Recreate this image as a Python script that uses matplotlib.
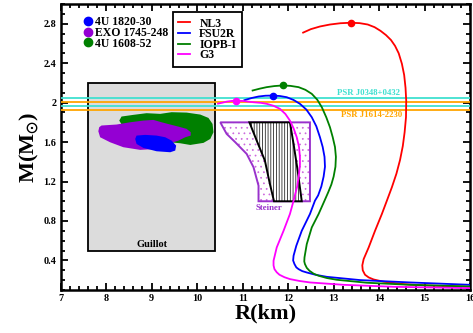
import matplotlib
matplotlib.use("Agg")
import matplotlib.pyplot as plt
from matplotlib.patches import Polygon, Rectangle
from matplotlib.lines import Line2D

plt.rcParams['font.family'] = ['Liberation Serif', 'DejaVu Serif']
plt.rcParams['font.weight'] = 'bold'
plt.rcParams['axes.labelweight'] = 'bold'
plt.rcParams['mathtext.fontset'] = 'stix'
plt.rcParams['hatch.linewidth'] = 0.5

# ---- M-R curves (R in km, M in Msun) ----
nl3_R = [12.33, 12.50, 12.70, 12.92, 13.15, 13.38, 13.57, 13.75, 13.90, 14.03, 14.15, 14.26,
         14.35, 14.43, 14.50, 14.55, 14.58, 14.595, 14.59, 14.56, 14.52, 14.46, 14.38, 14.28,
         14.17, 14.06, 13.91, 13.77, 13.66, 13.63, 13.64, 13.69, 13.77, 13.88, 14.10, 14.54,
         15.05, 16.0]
nl3_M = [2.71, 2.745, 2.772, 2.792, 2.805, 2.81, 2.806, 2.792, 2.765, 2.728, 2.685, 2.635,
         2.575, 2.50, 2.394, 2.28, 2.15, 2.02, 1.852, 1.70, 1.56, 1.42, 1.28, 1.142,
         1.006, 0.871, 0.701, 0.532, 0.414, 0.35, 0.30, 0.255, 0.228, 0.207, 0.184, 0.160,
         0.146, 0.133]

fsu_R = [11.04, 11.20, 11.35, 11.50, 11.66, 11.82, 11.97, 12.12, 12.26, 12.40, 12.52, 12.62,
         12.70, 12.76, 12.80, 12.81, 12.78, 12.73, 12.66, 12.59, 12.48, 12.30, 12.18, 12.12,
         12.11, 12.14, 12.18, 12.23, 12.31, 12.41, 12.60, 12.85, 13.58, 14.68, 16.0]
fsu_M = [2.025, 2.047, 2.062, 2.070, 2.072, 2.067, 2.055, 2.027, 1.988, 1.93, 1.852, 1.76,
         1.649, 1.55, 1.45, 1.35, 1.25, 1.15, 1.06, 1.006, 0.871, 0.701, 0.549, 0.448,
         0.40, 0.363, 0.33, 0.312, 0.292, 0.278, 0.255, 0.234, 0.201, 0.177, 0.153]

iopb_R = [11.22, 11.38, 11.53, 11.70, 11.88, 12.05, 12.23, 12.38, 12.52, 12.64, 12.74, 12.84,
          12.92, 12.98, 13.03, 13.05, 13.04, 13.00, 12.95, 12.88, 12.80, 12.67, 12.52, 12.41,
          12.36, 12.355, 12.37, 12.41, 12.47, 12.56, 12.67, 12.85, 13.07, 13.73, 14.68, 16.0]
iopb_M = [2.123, 2.142, 2.157, 2.168, 2.174, 2.17, 2.157, 2.13, 2.089, 2.03, 1.954, 1.85,
          1.75, 1.65, 1.55, 1.45, 1.35, 1.25, 1.17, 1.09, 1.006, 0.871, 0.735, 0.566,
          0.431, 0.39, 0.363, 0.325, 0.295, 0.266, 0.245, 0.222, 0.204, 0.174, 0.153, 0.136]

g3_R = [10.46, 10.56, 10.65, 10.76, 10.86, 11.00, 11.24, 11.40, 11.53, 11.68, 11.82, 11.94,
        12.04, 12.12, 12.19, 12.24, 12.26, 12.26, 12.24, 12.20, 12.16, 12.12, 12.04, 11.90,
        11.75, 11.68, 11.68, 11.70, 11.75, 11.81, 11.92, 12.04, 12.25, 12.48, 13.22, 14.32,
        16.0]
g3_M = [1.99, 2.00, 2.01, 2.017, 2.02, 2.017, 2.004, 1.998, 1.988, 1.968, 1.937, 1.885,
        1.818, 1.74, 1.649, 1.55, 1.446, 1.37, 1.28, 1.15, 1.08, 1.006, 0.871, 0.701,
        0.532, 0.397, 0.35, 0.312, 0.28, 0.255, 0.23, 0.211, 0.192, 0.177, 0.153, 0.133,
        0.119]

eos_names = ['NL3', 'FSU2R', 'IOPB-I', 'G3']
eos_colors = ['red', 'blue', 'green', 'magenta']
eos_R = [nl3_R, fsu_R, iopb_R, g3_R]
eos_M = [nl3_M, fsu_M, iopb_M, g3_M]
max_R = [13.38, 11.66, 11.88, 10.86]
max_M = [2.81, 2.072, 2.174, 2.02]

# ---- observational constraints ----
psr_names = ['PSR J0348+0432', 'PSR J1614-2230']
psr_colors = ['turquoise', 'orange']
psr_lo = [1.97, 1.93]
psr_hi = [2.05, 2.01]

guillot_R = [7.6, 10.4]
guillot_M = [0.5, 2.2]

blob_names = ['4U 1820-30', 'EXO 1745-248', '4U 1608-52']
blob_colors = ['blue', 'darkviolet', 'green']
blob_4u1820 = [(8.64, 1.632), (8.67, 1.666), (8.86, 1.673), (9.11, 1.666), (9.30, 1.649),
               (9.44, 1.615), (9.54, 1.564), (9.52, 1.514), (9.41, 1.497), (9.11, 1.507),
               (8.82, 1.541), (8.67, 1.581)]
blob_exo = [(7.85, 1.751), (7.90, 1.768), (8.23, 1.778), (8.53, 1.801), (8.82, 1.818),
            (9.04, 1.825), (9.22, 1.801), (9.41, 1.778), (9.59, 1.757), (9.77, 1.734),
            (9.86, 1.700), (9.86, 1.666), (9.74, 1.649), (9.59, 1.615), (9.41, 1.588),
            (9.11, 1.531), (8.75, 1.521), (8.38, 1.548), (8.09, 1.598), (7.87, 1.649),
            (7.83, 1.710)]
blob_4u1608 = [(8.29, 1.818), (8.34, 1.859), (8.60, 1.876), (8.89, 1.893), (9.19, 1.886),
               (9.44, 1.903), (9.77, 1.899), (10.07, 1.879), (10.25, 1.845), (10.34, 1.784),
               (10.36, 1.700), (10.29, 1.632), (10.14, 1.592), (9.85, 1.571), (9.63, 1.588),
               (9.41, 1.598), (8.75, 1.649), (8.38, 1.75)]
blobs = [blob_4u1820, blob_exo, blob_4u1608]

steiner_outer = [(10.51, 1.80), (12.48, 1.80), (12.48, 1.0), (11.35, 1.0), (11.35, 1.158),
                 (11.24, 1.345), (11.09, 1.480), (10.84, 1.598), (10.65, 1.683)]
steiner_inner = [(11.15, 1.80), (12.04, 1.80), (12.12, 1.581), (12.21, 1.311), (12.30, 1.0),
                 (11.69, 1.0), (11.60, 1.175), (11.49, 1.412), (11.31, 1.615)]

fig = plt.figure(figsize=(4.73, 3.33), dpi=100)
ax = fig.add_axes([0.128, 0.129, 0.866, 0.859])

ax.add_patch(Rectangle((guillot_R[0], guillot_M[0]), guillot_R[1] - guillot_R[0],
                       guillot_M[1] - guillot_M[0], facecolor='#dcdcdc',
                       edgecolor='black', lw=1.3, zorder=1))
ax.text(sum(guillot_R) / 2, guillot_M[0] + 0.065, 'Guillot', fontsize=7.5,
        ha='center', va='center', zorder=2)

# draw 4U 1608 first, then EXO, then 4U 1820 on top
for i in [2, 1, 0]:
    ax.add_patch(Polygon(blobs[i], closed=True, facecolor=blob_colors[i],
                         edgecolor='none', zorder=2))

ax.add_patch(Polygon(steiner_outer, closed=True, facecolor='white',
                     edgecolor='#cc66dd', hatch='...', lw=0, zorder=2))
ax.add_patch(Polygon(steiner_outer, closed=True, facecolor='none',
                     edgecolor='#9932cc', lw=1.4, zorder=3))
ax.add_patch(Polygon(steiner_inner, closed=True, facecolor='white',
                     edgecolor='black', hatch='||||||', lw=1.4, zorder=3))
ax.text(11.57, 0.93, 'Steiner', fontsize=6.3, color='#9932cc',
        ha='center', va='center', zorder=3)

for lo, hi, c in zip(psr_lo, psr_hi, psr_colors):
    ax.axhline(lo, color=c, lw=1.3, zorder=3)
    ax.axhline(hi, color=c, lw=1.3, zorder=3)
ax.text(13.76, 2.10, psr_names[0], color='turquoise', fontsize=6.3,
        ha='center', va='center')
ax.text(13.84, 1.87, psr_names[1], color='orange', fontsize=6.3,
        ha='center', va='center')

line_handles = []
for R, M, c, n, xr, ym in zip(eos_R, eos_M, eos_colors, eos_names, max_R, max_M):
    h, = ax.plot(R, M, color=c, lw=1.3, zorder=4, label=n)
    ax.plot([xr], [ym], 'o', color=c, ms=4.5, zorder=5)
    line_handles.append(h)

ax.set_xlim(7, 16)
ax.set_ylim(0.1, 3.0)
ax.set_xticks(range(7, 17))
ax.set_yticks([0.4, 0.8, 1.2, 1.6, 2.0, 2.4, 2.8])
ax.set_yticklabels(['0.4', '0.8', '1.2', '1.6', '2', '2.4', '2.8'])
ax.set_xticks([7 + 0.2 * k for k in range(46)], minor=True)
ax.set_yticks([0.1 * k for k in range(1, 31)], minor=True)
ax.tick_params(which='both', direction='in', top=True, right=True, width=1.3,
               labelsize=7.3, pad=3)
ax.tick_params(which='major', length=5)
ax.tick_params(which='minor', length=3)
for s in ax.spines.values():
    s.set_linewidth(1.8)

ax.set_xlabel('R(km)', fontsize=16, labelpad=0)
ax.set_ylabel(r'M(M$_{\mathbf{\odot}}$)', fontsize=16, labelpad=2)

leg1 = ax.legend(handles=line_handles, loc='upper left', bbox_to_anchor=(0.274, 0.971),
                 borderaxespad=0, fontsize=8.5, frameon=True, fancybox=False,
                 edgecolor='black', framealpha=1, handlelength=1.05, handletextpad=0.75,
                 labelspacing=-0.12, borderpad=0.45)
leg1.get_frame().set_linewidth(1.3)
ax.add_artist(leg1)

blob_handles = [Line2D([], [], ls='none', marker='o', ms=6, color=c) for c in blob_colors]
ax.legend(blob_handles, blob_names, loc='upper left', bbox_to_anchor=(0.043, 0.975),
          borderaxespad=0, fontsize=8.5, frameon=False, handlelength=0.8,
          handletextpad=0.25, labelspacing=-0.1)

fig.savefig('out.png', dpi=100)
